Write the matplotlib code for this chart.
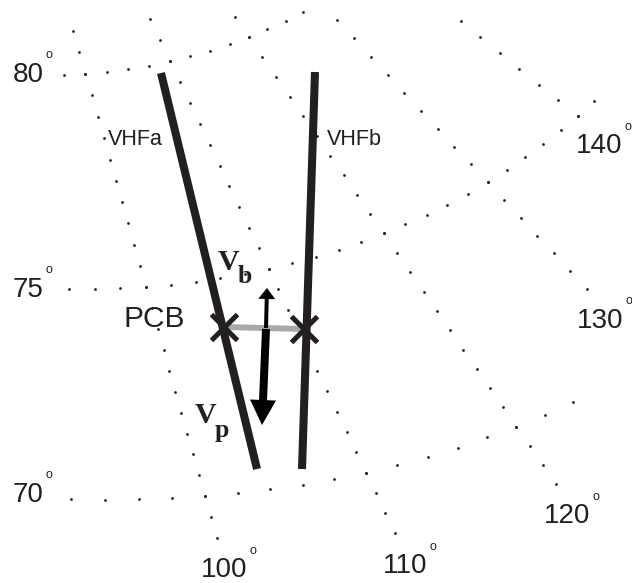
import numpy as np
import matplotlib
matplotlib.use("Agg")
import matplotlib.pyplot as plt
from matplotlib.patches import FancyArrow

# graticule
grid_lats = [70, 75, 80]
grid_lat_step = [2.0, 2.0, 2.5]      # lon spacing of the dots on each parallel
grid_lons = [100, 110, 120, 130, 140]
lon_range = (90, 146)
lat_range = (68.5, 82)

# radar beams (lon, lat at both ends)
vhfa_lon = [108.436, 103.637]
vhfa_lat = [79.790, 70.512]
vhfb_lon = [123.963, 106.337]
vhfb_lat = [78.767, 70.360]

# common volume crossings
pcb_lon = [104.865, 110.448]
pcb_lat = [73.874, 73.492]

# velocity vectors: start lon/lat, end lon/lat
vb_arrow = [107.828, 73.692, 109.191, 74.580]
vp_arrow = [107.797, 73.670, 104.938, 71.508]

lat_labels = ["70", "75", "80"]
lon_labels = ["100", "110", "120", "130", "140"]

# lambert conic + fitted plane mapping
N_CONE = 0.92
LON_C = 113.0
T0 = np.array([-46.48838785, -392.5842404])
M = np.array([[4702.4276319, 2264.86303922], [-1280.3250253, 4213.50073024]])
BOX = (58, 596, 11, 546)

INK = "#231f20"
SANS = ["Liberation Sans", "DejaVu Sans"]
SERIF = ["Liberation Serif", "DejaVu Serif"]


def project(lon, lat):
    lon = np.asarray(lon, float)
    lat = np.asarray(lat, float)
    rho = np.tan(np.radians(90 - lat) / 2) ** N_CONE
    psi = np.radians(N_CONE * (lon - LON_C))
    uv = np.stack([rho * np.sin(psi), rho * np.cos(psi)]).reshape(2, -1)
    xy = M @ uv + T0[:, None]
    return xy[0].reshape(lon.shape), xy[1].reshape(lon.shape)


fig = plt.figure(figsize=(6.32, 5.83), dpi=100)
ax = fig.add_axes([0, 0, 1, 1])
ax.set_xlim(0, 632)
ax.set_ylim(583, 0)
ax.axis("off")


def dots(lon, lat):
    x, y = project(lon, lat)
    m = (x >= BOX[0]) & (x <= BOX[1]) & (y >= BOX[2]) & (y <= BOX[3])
    ax.plot(x[m], y[m], ls="none", marker="o", ms=2.0, mew=0, color=INK, zorder=1)


for la, step in zip(grid_lats, grid_lat_step):
    lo = np.arange(lon_range[0], lon_range[1] + 0.01, step)
    dots(lo, np.full_like(lo, la))
for lo in grid_lons:
    la = np.arange(lat_range[0], lat_range[1] + 0.01, 0.5)
    dots(np.full_like(la, lo), la)

# beams
for lons, lats in [(vhfa_lon, vhfa_lat), (vhfb_lon, vhfb_lat)]:
    x, y = project(lons, lats)
    ax.plot(x, y, color=INK, lw=5.8, solid_capstyle="butt", zorder=3)

x, y = project(pcb_lon, pcb_lat)
ax.plot(x, y, color="#a7a9ac", lw=4.3, solid_capstyle="butt", zorder=4)
ax.plot(x, y, ls="none", marker="x", ms=19, mew=3.6, color=INK, zorder=5)

for arr, w, hw, hl in [(vb_arrow, 4, 17, 11), (vp_arrow, 8, 26, 25)]:
    xs, ys = project(arr[0], arr[1])
    xt, yt = project(arr[2], arr[3])
    ax.add_patch(FancyArrow(float(xs), float(ys), float(xt - xs), float(yt - ys), width=w,
                            head_width=hw, head_length=hl, length_includes_head=True,
                            color="black", lw=0, zorder=6))


def map_text(lon, lat, s, sub=None, **kw):
    x, y = project(lon, lat)
    x, y = float(x), float(y)
    ax.text(x, y, s, color=INK, va="baseline", zorder=7, **kw)
    if sub:
        ax.annotate(sub[0], (x, y), xytext=sub[1], textcoords="offset pixels", color=INK,
                    ha="left", va="baseline", fontsize=18.5, family=SERIF, weight="bold", zorder=7)


map_text(100.236, 78.338, "VHFa", ha="left", fontsize=15.5, family=SANS)
map_text(120.344, 77.236, "VHFb", ha="left", fontsize=15.5, family=SANS)
map_text(102.041, 73.986, "PCB", ha="right", fontsize=21.5, family=SANS)
map_text(106.065, 75.188, "V", sub=("b", (20, -13)), ha="left", fontsize=21.5, family=SERIF, weight="bold")
map_text(100.695, 71.733, "V", sub=("p", (20, -14)), ha="left", fontsize=21.5, family=SERIF, weight="bold")

# tick labels, anchored at right/baseline in plane coordinates
lat_label_pos = [(43, 501.7), (43, 296.7), (43.3, 81.7)]
lon_label_pos = [(247, 577), (427, 573), (590, 523), (623, 328), (622, 153)]
for s, (px, py) in zip(lat_labels + lon_labels, lat_label_pos + lon_label_pos):
    ax.text(px, py, s, ha="right", va="baseline", fontsize=20, family=SANS, color=INK)
    ax.annotate("o", (px, py), xytext=(2.5, 23.5), textcoords="offset pixels",
                ha="left", va="baseline", fontsize=9, family=SANS, color=INK,
                annotation_clip=False)

fig.savefig("out.png")
